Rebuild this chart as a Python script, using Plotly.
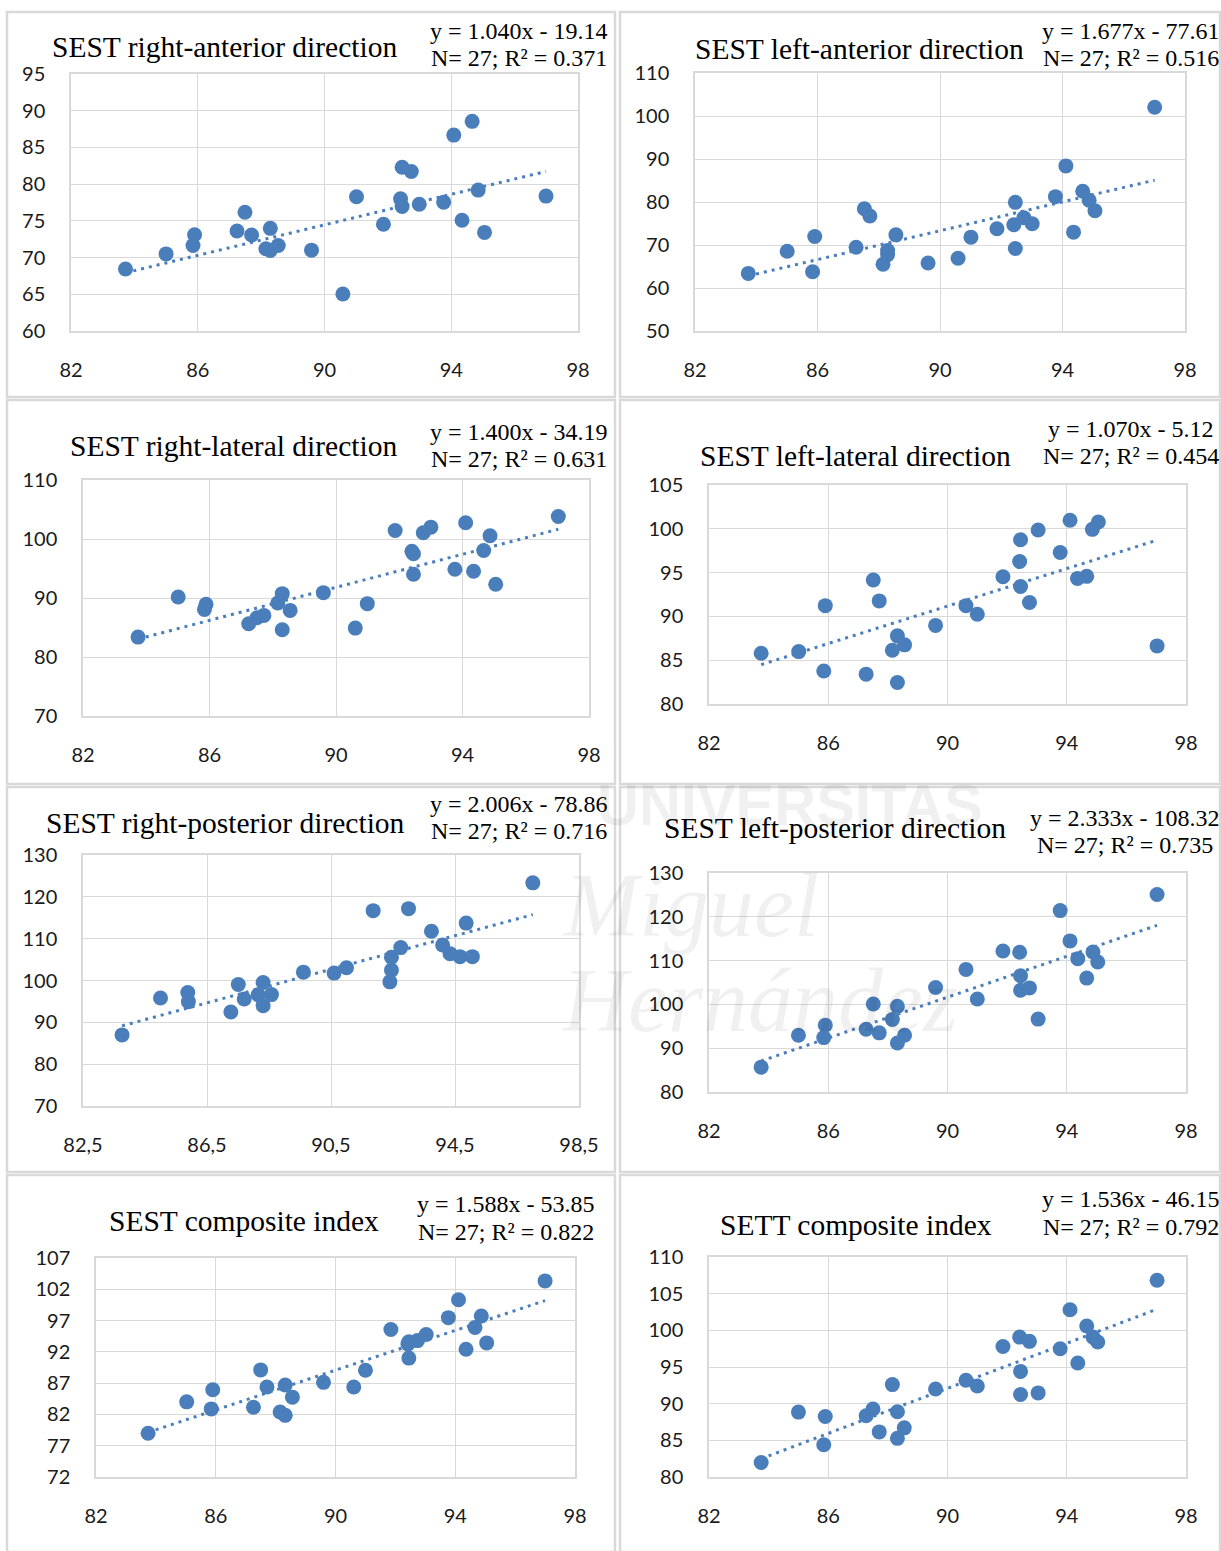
import plotly.graph_objects as go

W, H = 1221, 1551

titles = ["SEST right-anterior direction", "SEST left-anterior direction",
          "SEST right-lateral direction", "SEST left-lateral direction",
          "SEST right-posterior direction", "SEST left-posterior direction",
          "SEST composite index", "SETT composite index"]
eq_lines = ["y = 1.040x - 19.14", "y = 1.677x - 77.61", "y = 1.400x - 34.19", "y = 1.070x - 5.12",
            "y = 2.006x - 78.86", "y = 2.333x - 108.32", "y = 1.588x - 53.85", "y = 1.536x - 46.15"]
r2_lines = ["N= 27; R² = 0.371", "N= 27; R² = 0.516", "N= 27; R² = 0.631", "N= 27; R² = 0.454",
            "N= 27; R² = 0.716", "N= 27; R² = 0.735", "N= 27; R² = 0.822", "N= 27; R² = 0.792"]
slopes = [1.040, 1.677, 1.400, 1.070, 2.006, 2.333, 1.588, 1.536]
intercepts = [-19.14, -77.61, -34.19, -5.12, -78.86, -108.32, -53.85, -46.15]

x1 = [83.72, 85.0, 85.85, 85.9, 87.24, 87.49, 87.7, 88.29, 88.29, 88.15, 88.54, 89.59, 90.58, 91.01,
      91.86, 92.45, 92.74, 92.4, 92.45, 92.99, 93.76, 94.08, 94.34, 94.66, 94.85, 95.05, 96.99]
y1 = [68.45, 70.5, 71.65, 73.1, 73.62, 76.17, 73.07, 73.98, 70.97, 71.2, 71.65, 71.01, 65.03, 78.28,
      74.53, 82.3, 81.72, 78.0, 76.95, 77.27, 77.55, 86.68, 75.08, 88.55, 79.19, 73.43, 78.37]

x2 = [83.74, 85.01, 85.91, 85.84, 87.26, 87.53, 87.71, 88.14, 88.29, 88.29, 88.56, 89.61, 90.59, 91.01,
      91.86, 92.46, 92.41, 92.46, 92.74, 93.01, 93.77, 94.11, 94.36, 94.66, 94.87, 95.06, 97.01]
y2 = [63.4, 68.55, 71.97, 63.79, 69.48, 78.44, 76.73, 65.51, 68.7, 67.77, 72.36, 65.82, 66.91, 71.82,
      73.77, 79.92, 74.7, 69.17, 76.34, 74.93, 81.25, 88.4, 72.99, 82.5, 80.39, 77.97, 102.05]

x3 = [83.74, 85.01, 85.89, 85.84, 87.24, 87.5, 87.72, 88.16, 88.3, 88.3, 88.55, 89.6, 90.61, 90.99,
      91.87, 92.4, 92.45, 92.45, 92.76, 93.0, 93.76, 94.1, 94.35, 94.67, 94.87, 95.05, 97.03]
y3 = [83.37, 90.17, 88.92, 88.07, 85.64, 86.66, 87.05, 89.15, 90.74, 84.62, 87.9, 90.91, 84.9, 89.04,
      101.44, 97.93, 94.02, 97.5, 101.05, 102.01, 94.87, 102.75, 94.53, 98.04, 100.54, 92.32, 103.82]

x4 = [83.75, 85.01, 85.9, 85.85, 87.27, 87.51, 87.71, 88.15, 88.32, 88.32, 88.56, 89.6, 90.62, 91.0,
      91.86, 92.45, 92.42, 92.45, 92.75, 93.04, 93.78, 94.11, 94.36, 94.67, 94.86, 95.06, 97.03]
y4 = [85.79, 85.98, 91.23, 83.76, 83.41, 94.15, 91.77, 86.14, 87.78, 82.45, 86.75, 88.97, 91.23, 90.24,
      94.53, 98.75, 96.26, 93.42, 91.58, 99.86, 97.29, 100.97, 94.34, 94.57, 99.94, 100.78, 86.63]

x5 = [83.76, 85.0, 85.88, 85.9, 87.27, 87.51, 87.7, 88.15, 88.31, 88.31, 88.58, 89.61, 90.6, 91.0,
      91.86, 92.45, 92.45, 92.4, 92.75, 93.0, 93.74, 94.1, 94.34, 94.66, 94.86, 95.06, 97.01]
y5 = [87.0, 95.83, 97.11, 94.95, 92.46, 99.04, 95.59, 96.6, 99.52, 93.99, 96.63, 102.0, 101.77, 103.05,
      116.7, 105.54, 102.49, 99.68, 107.86, 117.17, 111.79, 108.5, 106.42, 105.7, 113.72, 105.7, 123.34]

x6 = [83.75, 85.0, 85.9, 85.85, 87.27, 87.51, 87.71, 88.15, 88.32, 88.32, 88.56, 89.6, 90.62, 91.0,
      91.86, 92.42, 92.45, 92.45, 92.75, 93.04, 93.78, 94.11, 94.37, 94.67, 94.88, 95.04, 97.03]
y6 = [85.67, 92.96, 95.26, 92.42, 94.34, 100.09, 93.5, 96.56, 99.56, 91.2, 92.96, 103.85, 107.99, 101.24,
      112.2, 111.9, 106.53, 103.24, 103.77, 96.64, 121.41, 114.5, 110.44, 106.0, 111.98, 109.68, 125.09]

x7 = [83.74, 85.03, 85.9, 85.85, 87.26, 87.5, 87.71, 88.15, 88.32, 88.32, 88.56, 89.6, 90.61, 91.0,
      91.85, 92.42, 92.45, 92.45, 92.74, 93.03, 93.77, 94.11, 94.36, 94.66, 94.87, 95.05, 97.0]
y7 = [79.0, 84.01, 85.95, 82.88, 83.15, 89.12, 86.38, 82.39, 86.7, 81.85, 84.76, 87.13, 86.38, 89.07,
      95.58, 93.27, 91.0, 93.6, 93.8, 94.78, 97.47, 100.32, 92.41, 95.91, 97.74, 93.43, 103.34]

x8 = [83.75, 85.0, 85.9, 85.85, 87.27, 87.5, 87.71, 88.15, 88.32, 88.32, 88.55, 89.6, 90.62, 91.0,
      91.86, 92.42, 92.75, 92.45, 92.45, 93.04, 93.78, 94.11, 94.37, 94.67, 94.88, 95.04, 97.03]
y8 = [81.97, 88.85, 88.26, 84.4, 88.35, 89.27, 86.15, 92.6, 88.9, 85.27, 86.7, 92.0, 93.2, 92.4,
      97.8, 99.08, 98.5, 94.4, 91.24, 91.47, 97.48, 102.8, 95.55, 100.6, 99.08, 98.4, 106.83]

xs = [x1, x2, x3, x4, x5, x6, x7, x8]
ys = [y1, y2, y3, y4, y5, y6, y7, y8]

x_ticks_std = [82, 86, 90, 94, 98]
x_ticks_p5 = [82.5, 86.5, 90.5, 94.5, 98.5]
x_ticktext_p5 = ["82,5", "86,5", "90,5", "94,5", "98,5"]
y_ticks = [[60, 65, 70, 75, 80, 85, 90, 95],
           [50, 60, 70, 80, 90, 100, 110],
           [70, 80, 90, 100, 110],
           [80, 85, 90, 95, 100, 105],
           [70, 80, 90, 100, 110, 120, 130],
           [80, 90, 100, 110, 120, 130],
           [72, 77, 82, 87, 92, 97, 102, 107],
           [80, 85, 90, 95, 100, 105, 110]]

# layout (pixels): plot areas [left, right, top, bottom]
plot_px = [(71, 578, 74, 331), (695, 1185, 73, 331),
           (83, 589, 480, 716), (709, 1186, 485, 704),
           (83, 579, 855, 1106), (709, 1186, 873, 1092),
           (96, 575, 1258, 1477), (709, 1186, 1257, 1477)]
title_pos = [(224, 47), (859, 49), (233, 446), (855, 456), (225, 823), (835, 828), (244, 1221), (856, 1225)]
eq_pos = [(519, 31, 58), (1131, 31, 58), (519, 432, 459), (1131, 429, 456),
          (519, 804, 831), (1125, 818, 845), (506, 1204, 1232), (1131, 1199, 1227)]

BLUE = "#4A7EBB"
GRID = "#D9D9D9"
TICKFONT = dict(family="Lato, Carlito, Arial", size=20, color="#1a1a1a")
SERIF = "Liberation Serif, Times New Roman, serif"

fig = go.Figure()

def px_x(v):
    return v / W

def px_y(v):
    return 1 - v / H

for i in range(8):
    n = i + 1
    xa = "x" if n == 1 else f"x{n}"
    ya = "y" if n == 1 else f"y{n}"
    fig.add_trace(go.Scatter(x=xs[i], y=ys[i], mode="markers", xaxis=xa, yaxis=ya,
                             marker=dict(color=BLUE, size=15, line=dict(width=0)),
                             showlegend=False, hoverinfo="x+y"))
    x0, x1_ = min(xs[i]), max(xs[i])
    fig.add_trace(go.Scatter(x=[x0, x1_], y=[slopes[i] * x0 + intercepts[i], slopes[i] * x1_ + intercepts[i]],
                             mode="lines", xaxis=xa, yaxis=ya,
                             line=dict(color=BLUE, width=3, dash="3px,5px"),
                             showlegend=False, hoverinfo="skip"))
    l, r, t, b = plot_px[i]
    yt = y_ticks[i]
    if n == 5:
        xtv, xtt, xr = x_ticks_p5, x_ticktext_p5, [82.5, 98.5]
    else:
        xtv, xtt, xr = x_ticks_std, [str(v) for v in x_ticks_std], [82, 98]
    fig.layout[f"xaxis{'' if n == 1 else n}"] = dict(
        domain=[px_x(l), px_x(r)], anchor=ya, range=xr, tickvals=xtv, ticktext=xtt,
        showgrid=True, gridcolor=GRID, gridwidth=1.3, zeroline=False,
        showline=True, linecolor=GRID, linewidth=1.5, mirror=True, automargin=False,
        ticks="", tickfont=TICKFONT, ticklabelstandoff=20, fixedrange=True)
    fig.layout[f"yaxis{'' if n == 1 else n}"] = dict(
        domain=[px_y(b), px_y(t)], anchor=xa, range=[yt[0], yt[-1]], tickvals=yt,
        showgrid=True, gridcolor=GRID, gridwidth=1.3, zeroline=False,
        showline=True, linecolor=GRID, linewidth=1.5, mirror=True, automargin=False,
        ticks="", tickfont=TICKFONT, ticklabelstandoff=20, fixedrange=True)
    tx, ty = title_pos[i]
    fig.add_annotation(x=px_x(tx), y=px_y(ty), xref="paper", yref="paper", text=titles[i],
                       showarrow=False, xanchor="center", yanchor="middle",
                       font=dict(family=SERIF, size=29.5, color="#000000"))
    ex, ey1, ey2 = eq_pos[i]
    fig.add_annotation(x=px_x(ex), y=px_y(ey1), xref="paper", yref="paper", text=eq_lines[i],
                       showarrow=False, xanchor="center", yanchor="middle",
                       font=dict(family=SERIF, size=24, color="#000000"))
    fig.add_annotation(x=px_x(ex), y=px_y(ey2), xref="paper", yref="paper", text=r2_lines[i],
                       showarrow=False, xanchor="center", yanchor="middle",
                       font=dict(family=SERIF, size=24, color="#000000"))

# panel borders
cols = [(7, 615), (620, 1220)]
rows = [(12, 397), (400, 784), (787, 1172), (1175, 1552)]
for (cl, cr) in cols:
    for (rt, rb) in rows:
        fig.add_shape(type="rect", xref="paper", yref="paper",
                      x0=px_x(cl), x1=px_x(cr), y0=px_y(rb), y1=px_y(rt),
                      line=dict(color=GRID, width=2.5), layer="below")

# faint watermark
wm = [(790, 805, 58, "Liberation Sans", "<b>UNIVERSITAS</b>"),
      (690, 905, 90, SERIF, "<i>Miguel</i>"),
      (760, 1000, 90, SERIF, "<i>Hernández</i>")]
for wx, wy, ws, wf, wt in wm:
    fig.add_annotation(x=px_x(wx), y=px_y(wy), xref="paper", yref="paper", text=wt,
                       showarrow=False, xanchor="center", yanchor="middle",
                       font=dict(family=wf, size=ws, color="rgba(0,0,0,0.06)"))

fig.update_layout(width=W, height=H,
                  margin=dict(l=0, r=0, t=0, b=0, pad=0, autoexpand=False),
                  paper_bgcolor="white", plot_bgcolor="white", showlegend=False)

fig.write_html("out.html", config={"displayModeBar": False},
               post_script="document.body.style.margin='0';document.body.style.overflow='hidden';")
